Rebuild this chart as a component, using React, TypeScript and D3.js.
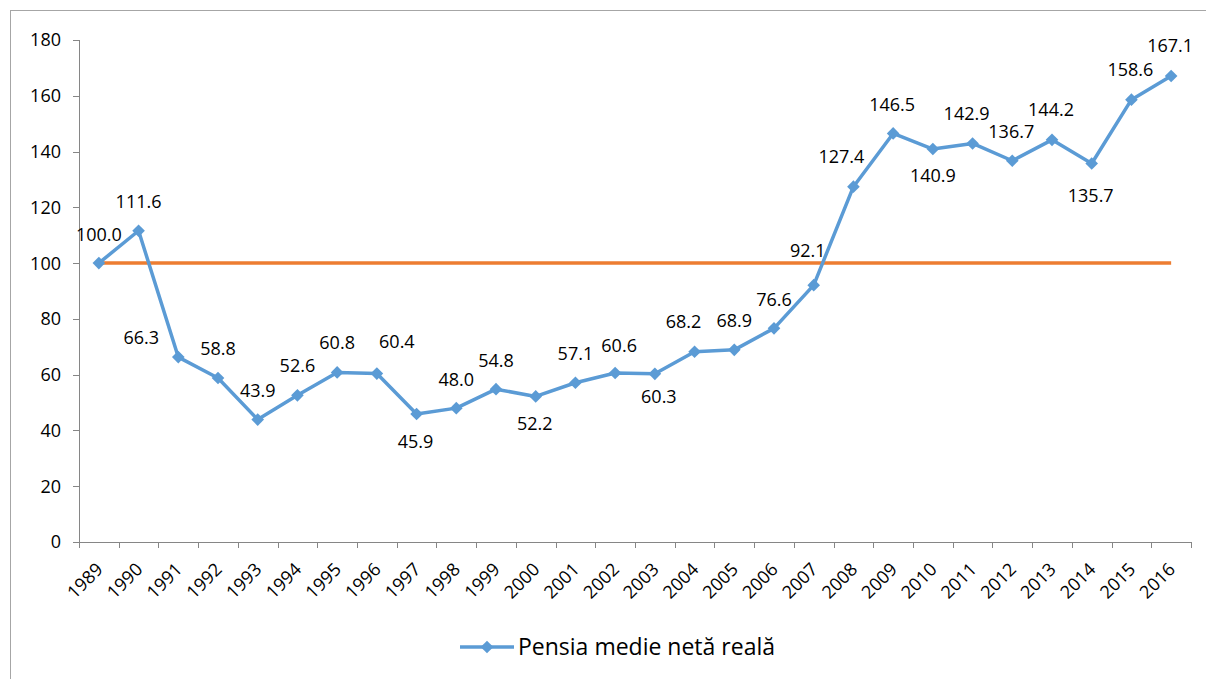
import React, { useEffect, useRef } from "react";
import * as d3 from "d3";

const years = [
  "1989", "1990", "1991", "1992", "1993", "1994", "1995", "1996", "1997", "1998",
  "1999", "2000", "2001", "2002", "2003", "2004", "2005", "2006", "2007", "2008",
  "2009", "2010", "2011", "2012", "2013", "2014", "2015", "2016",
];

const pension = [
  100.0, 111.6, 66.3, 58.8, 43.9, 52.6, 60.8, 60.4, 45.9, 48.0,
  54.8, 52.2, 57.1, 60.6, 60.3, 68.2, 68.9, 76.6, 92.1, 127.4,
  146.5, 140.9, 142.9, 136.7, 144.2, 135.7, 158.6, 167.1,
];

const referenceLevel = 100;
const yTicks = [0, 20, 40, 60, 80, 100, 120, 140, 160, 180];
const seriesName = "Pensia medie netă reală";

// where each data label sits relative to its point (manual, as in the source)
const labelShift: [number, number][] = [
  [0, -29], [0, -29], [-37, -20], [0, -29], [0, -29], [0, -30], [0, -30], [20, -32],
  [-1, 27.5], [0, -28.5], [0, -28.5], [-1, 27], [0, -29], [4, -27], [4, 23],
  [-11, -30], [0, -29], [0, -29], [-6, -35], [-12, -30], [-1, -29], [0, 26.5],
  [-6, -29.5], [-1, -29], [-1, -30], [-1, 31.5], [-1, -30], [-1, -30],
];

const BLUE = "#5B9BD5";
const ORANGE = "#ED7D31";
const AXIS = "#868686";
const FONT = "'Open Sans', sans-serif";

export default function App() {
  const svgRef = useRef<SVGSVGElement>(null);

  useEffect(() => {
    if (!svgRef.current) return;
    const svg = d3.select(svgRef.current);
    svg.selectAll("*").remove();

    const x = d3.scaleBand().domain(years).range([79, 1191]);
    const y = d3.scaleLinear().domain([0, 180]).range([542, 40]);
    const cx = (yr: string) => (x(yr) as number) + x.bandwidth() / 2;

    // outer frame
    svg.append("rect")
      .attr("x", 10.5).attr("y", 10.5)
      .attr("width", 1210).attr("height", 690)
      .attr("fill", "none").attr("stroke", "#a6a6a6").attr("stroke-width", 1);

    // y axis
    const gy = svg.append("g");
    gy.append("line")
      .attr("x1", 79.5).attr("x2", 79.5)
      .attr("y1", y(180)).attr("y2", y(0) + 6)
      .attr("stroke", AXIS);
    gy.selectAll(".yt").data(yTicks).enter().append("line")
      .attr("x1", 73).attr("x2", 79.5)
      .attr("y1", d => Math.round(y(d)) + 0.5).attr("y2", d => Math.round(y(d)) + 0.5)
      .attr("stroke", AXIS);
    gy.selectAll(".yl").data(yTicks).enter().append("text")
      .attr("x", 61).attr("y", d => y(d))
      .attr("dy", "0.36em")
      .attr("text-anchor", "end")
      .attr("font-family", FONT).attr("font-size", 18).attr("fill", "#000")
      .text(d => d);

    // x axis
    const gx = svg.append("g");
    gx.append("line")
      .attr("x1", 79).attr("x2", 1191)
      .attr("y1", y(0) + 0.5).attr("y2", y(0) + 0.5)
      .attr("stroke", AXIS);
    const bounds = years.map(d => x(d) as number).concat([1191]);
    gx.selectAll(".xt").data(bounds).enter().append("line")
      .attr("x1", d => Math.round(d) + 0.5).attr("x2", d => Math.round(d) + 0.5)
      .attr("y1", y(0)).attr("y2", y(0) + 6)
      .attr("stroke", AXIS);
    gx.selectAll(".xl").data(years).enter().append("text")
      .attr("transform", d => `translate(${cx(d) + 0.5},566) rotate(-45)`)
      .attr("dy", "0.36em")
      .attr("text-anchor", "end")
      .attr("font-family", FONT).attr("font-size", 18).attr("fill", "#000")
      .text(d => d);

    // reference line
    svg.append("line")
      .attr("x1", cx(years[0])).attr("x2", cx(years[years.length - 1]))
      .attr("y1", y(referenceLevel)).attr("y2", y(referenceLevel))
      .attr("stroke", ORANGE).attr("stroke-width", 3.5);

    // series
    const line = d3.line<number>()
      .x((_, i) => cx(years[i]))
      .y(d => y(d));
    svg.append("path")
      .attr("d", line(pension))
      .attr("fill", "none").attr("stroke", BLUE)
      .attr("stroke-width", 3.5).attr("stroke-linejoin", "round");

    const diamond = d3.symbol().type(d3.symbolSquare).size(80)();
    svg.selectAll(".mk").data(pension).enter().append("path")
      .attr("d", diamond)
      .attr("transform", (d, i) => `translate(${cx(years[i])},${y(d)}) rotate(45)`)
      .attr("fill", BLUE);

    svg.selectAll(".lbl").data(pension).enter().append("text")
      .attr("x", (d, i) => cx(years[i]) + labelShift[i][0])
      .attr("y", (d, i) => y(d) + labelShift[i][1])
      .attr("dy", "0.36em")
      .attr("text-anchor", "middle")
      .attr("font-family", FONT).attr("font-size", 18).attr("fill", "#000")
      .text(d => d.toFixed(1));

    // legend
    const lg = svg.append("g");
    lg.append("line")
      .attr("x1", 460).attr("x2", 514).attr("y1", 647).attr("y2", 647)
      .attr("stroke", BLUE).attr("stroke-width", 3.5);
    lg.append("path")
      .attr("d", diamond)
      .attr("transform", "translate(487,647) rotate(45)")
      .attr("fill", BLUE);
    lg.append("text")
      .attr("x", 518).attr("y", 655)
      .attr("font-family", FONT).attr("font-size", 23).attr("fill", "#000")
      .text(seriesName);
  }, []);

  return (
    <svg
      ref={svgRef}
      width={1206}
      height={679}
      style={{ position: "absolute", left: 0, top: 0, background: "#fff" }}
    />
  );
}
